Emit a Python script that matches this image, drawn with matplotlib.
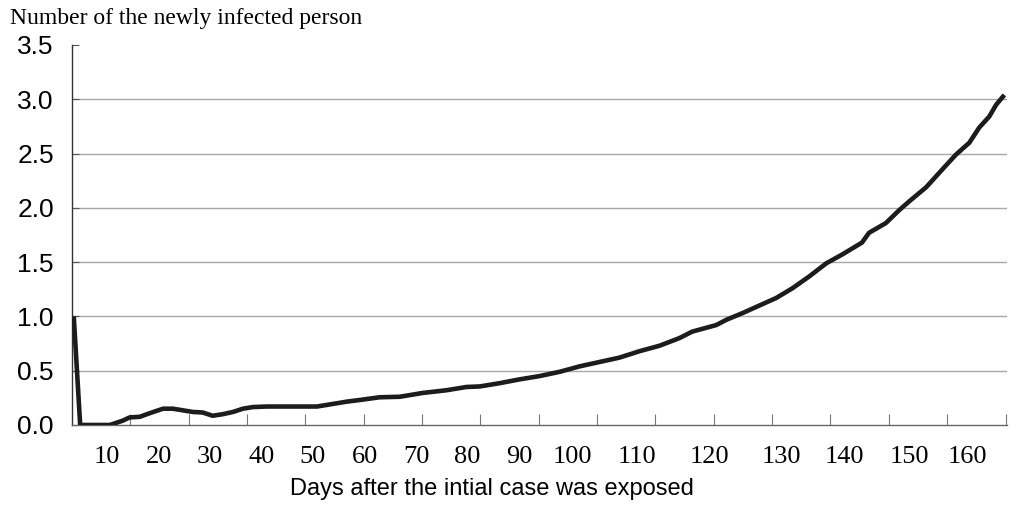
import numpy as np
import matplotlib
matplotlib.use("Agg")
import matplotlib.pyplot as plt
from matplotlib.ticker import FixedLocator

# data (x in axis units, ticks every 10)
days = [0.3, 1.4, 6.5, 8.7, 9.9, 11.6, 13.4, 15.6, 17.3, 19.0, 20.7, 22.4, 24.1,
        25.9, 27.6, 29.3, 31.0, 33.4, 42.0, 43.7, 47.1, 49.3, 52.7, 56.2, 60.1,
        64.2, 67.6, 69.9, 73.3, 76.7, 80.1, 83.6, 87.0, 90.4, 93.8, 97.3, 100.7,
        104.1, 106.3, 110.4, 112.2, 114.9, 117.8, 120.7, 123.5, 126.4, 129.3,
        132.0, 135.4, 136.6, 139.5, 141.8, 143.5, 146.4, 149.1, 151.5, 153.8,
        155.5, 157.2, 158.4, 159.8]
infected = [1.0, 0.0, 0.0, 0.04, 0.07, 0.075, 0.11, 0.15, 0.15, 0.135, 0.12, 0.115,
            0.085, 0.10, 0.12, 0.15, 0.165, 0.17, 0.17, 0.185, 0.215, 0.23, 0.255,
            0.26, 0.295, 0.32, 0.35, 0.355, 0.385, 0.42, 0.45, 0.49, 0.54, 0.58,
            0.62, 0.68, 0.73, 0.80, 0.86, 0.92, 0.97, 1.03, 1.10, 1.17, 1.26, 1.37,
            1.49, 1.57, 1.68, 1.77, 1.86, 1.98, 2.06, 2.19, 2.35, 2.49, 2.60, 2.74,
            2.84, 2.95, 3.04]

tick_marks = list(range(10, 161, 10))
day_labels = ["10", "20", "30", "40", "50", "60", "70", "80", "90", "100",
              "110", "120", "130", "140", "150", "160"]
# where the labels sit (they are offset from the tick marks in the original)
label_pos = [6.0, 14.9, 23.6, 32.5, 41.3, 50.2, 59.1, 67.8, 76.7, 85.8,
             96.9, 109.2, 121.6, 132.4, 143.5, 153.4]
y_ticks = [0.0, 0.5, 1.0, 1.5, 2.0, 2.5, 3.0, 3.5]

sans = ["Liberation Sans", "DejaVu Sans"]
serif = ["Liberation Serif", "DejaVu Serif"]

fig = plt.figure(figsize=(10.1, 5.16), dpi=100)
ax = fig.add_axes([0.0713, 0.1764, 0.926, 0.7364])

ax.plot(days, infected, color="#1c1c1c", lw=3.3, solid_joinstyle="round",
        solid_capstyle="butt", zorder=3)

ax.set_xlim(0, 160.3)
ax.set_ylim(0, 3.5)

for v in y_ticks[1:-1]:
    ax.axhline(v, color="#a8a8a8", lw=1.0, zorder=1)

ax.set_yticks(y_ticks)
ax.set_yticklabels([f"{v:.1f}" for v in y_ticks], family=sans, fontsize=19)
ax.tick_params(axis="y", direction="in", length=5, width=0.8, color="#555555",
               pad=13)

ax.xaxis.set_major_locator(FixedLocator(tick_marks))
ax.xaxis.set_minor_locator(FixedLocator(label_pos))
ax.set_xticklabels([], minor=False)
ax.set_xticklabels(day_labels, minor=True, family=serif, fontsize=19)
ax.tick_params(axis="x", which="major", direction="in", length=8, width=0.8,
               color="#777777")
ax.tick_params(axis="x", which="minor", length=0, pad=15)

for s in ["top", "right"]:
    ax.spines[s].set_visible(False)
ax.spines["left"].set_color("#333333")
ax.spines["left"].set_linewidth(1.0)
ax.spines["bottom"].set_color("#666666")
ax.spines["bottom"].set_linewidth(1.0)

fig.text(0.0099, 0.965, "Number of the newly infected person", family=serif,
         fontsize=17, ha="left", va="center")
fig.text(0.487, 0.0407, "Days after the intial case was exposed", family=sans,
         fontsize=17, ha="center", va="baseline")

fig.savefig("out.png", dpi=100)
